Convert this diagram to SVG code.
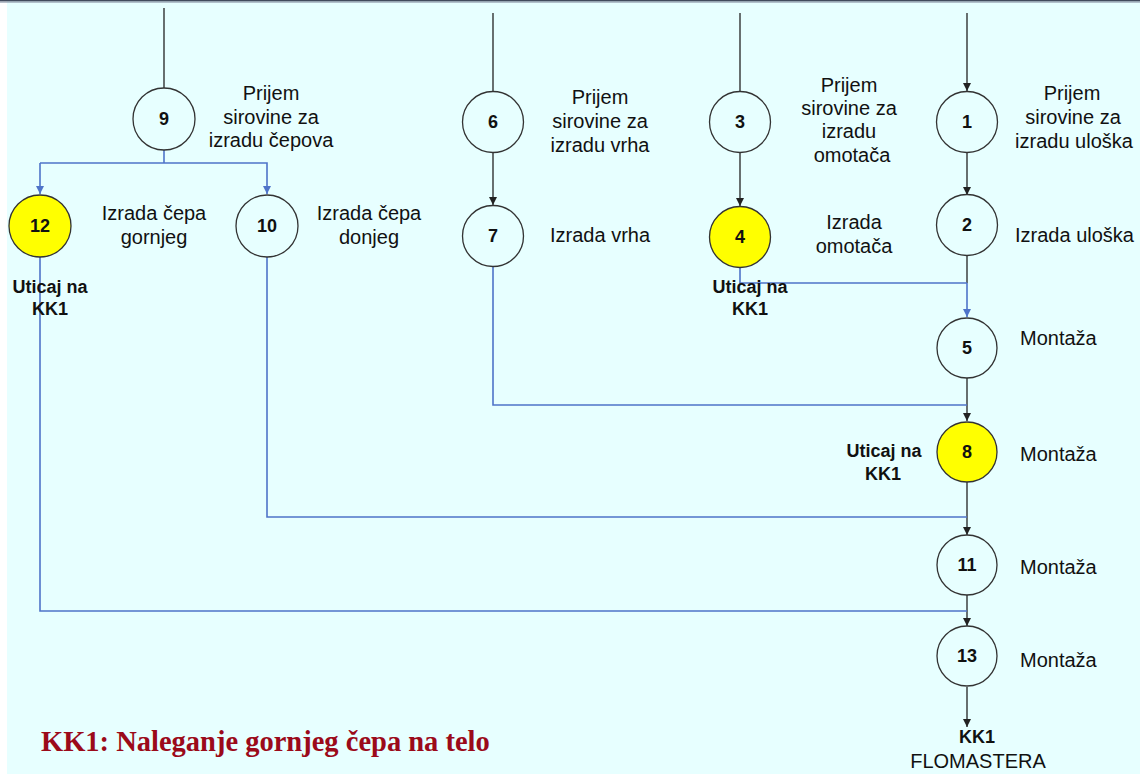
<svg xmlns="http://www.w3.org/2000/svg" width="1140" height="774" viewBox="0 0 1140 774">
<defs>
<style>
.bg{fill:#e7ffff}
.node{stroke:#333;stroke-width:1.3;fill:#e7ffff}
.hl{fill:#ffff00}
.num{font-family:"Liberation Sans",Arial,sans-serif;font-size:18px;font-weight:bold;fill:#111;text-anchor:middle}
.lbl{font-family:"Liberation Sans",Arial,sans-serif;font-size:20px;fill:#111}
.mid{text-anchor:middle}
.bold{font-family:"Liberation Sans",Arial,sans-serif;font-size:18px;font-weight:bold;fill:#111;text-anchor:middle}
.blk{stroke:#222;stroke-width:1.3;fill:none}
.blu{stroke:#4f74c9;stroke-width:1.6;fill:none}
.note{font-family:"Liberation Serif","Times New Roman",serif;font-size:28.5px;font-weight:bold;fill:#9b0a1a}
</style>
<marker id="ab" viewBox="0 0 10 10" refX="10" refY="5" markerWidth="11" markerHeight="8" markerUnits="userSpaceOnUse" orient="auto"><path d="M0,0 L10,5 L0,10 z" fill="#222"/></marker>
<marker id="au" viewBox="0 0 10 10" refX="10" refY="5" markerWidth="11" markerHeight="8" markerUnits="userSpaceOnUse" orient="auto"><path d="M0,0 L10,5 L0,10 z" fill="#4f74c9"/></marker>
</defs>
<rect x="0" y="0" width="1140" height="774" fill="#ffffff"/>
<rect class="bg" x="7" y="0" width="1133" height="774"/>
<rect x="0" y="0" width="1140" height="1.5" fill="#414b5c"/>
<rect x="0" y="1.5" width="1140" height="1.2" fill="#9aa6b6"/>

<g id="connectors">
<line class="blk" x1="164" y1="8" x2="164" y2="88"/>
<line class="blk" x1="493" y1="13" x2="493" y2="92"/>
<line class="blk" x1="740" y1="13" x2="740" y2="92"/>
<line class="blk" x1="967" y1="13" x2="967" y2="91" marker-end="url(#ab)"/>
<polyline class="blu" points="164,150 164,163"/>
<polyline class="blu" points="40,163 267,163 267,194" marker-end="url(#au)"/>
<line class="blu" x1="40" y1="163" x2="40" y2="194" marker-end="url(#au)"/>
<line class="blk" x1="493" y1="153" x2="493" y2="205" marker-end="url(#ab)"/>
<line class="blk" x1="740" y1="152" x2="740" y2="206" marker-end="url(#ab)"/>
<line class="blk" x1="967" y1="152" x2="967" y2="195" marker-end="url(#ab)"/>
<line class="blk" x1="967" y1="256" x2="967" y2="283"/>
<line class="blu" x1="967" y1="283" x2="967" y2="317" marker-end="url(#au)"/>
<polyline class="blu" points="740,267 740,283 967,283"/>
<line class="blk" x1="967" y1="378" x2="967" y2="421" marker-end="url(#ab)"/>
<polyline class="blu" points="493,267 493,405 967,405"/>
<line class="blk" x1="967" y1="482" x2="967" y2="535" marker-end="url(#ab)"/>
<polyline class="blu" points="267,256 267,517 967,517"/>
<line class="blk" x1="967" y1="595" x2="967" y2="626" marker-end="url(#ab)"/>
<polyline class="blu" points="40,257 40,611 967,611"/>
<line class="blk" x1="967" y1="687" x2="967" y2="727" marker-end="url(#ab)"/>
</g>

<g id="n9"><circle class="node" cx="164" cy="119" r="31"/><text class="num" x="164" y="125">9</text>
<text class="lbl mid" x="271" y="100">Prijem</text><text class="lbl mid" x="271" y="123.5">sirovine za</text><text class="lbl mid" x="271" y="147">izradu čepova</text></g>

<g id="n12"><circle class="node hl" cx="40" cy="226" r="31"/><text class="num" x="40" y="232">12</text>
<text class="lbl mid" x="154" y="220">Izrada čepa</text><text class="lbl mid" x="154" y="244">gornjeg</text>
<text class="bold" x="50" y="293">Uticaj na</text><text class="bold" x="50" y="315">KK1</text></g>

<g id="n10"><circle class="node" cx="267" cy="226" r="31"/><text class="num" x="267" y="232">10</text>
<text class="lbl mid" x="369" y="220">Izrada čepa</text><text class="lbl mid" x="369" y="244">donjeg</text></g>

<g id="n6"><circle class="node" cx="493" cy="122" r="30.5"/><text class="num" x="493" y="128">6</text>
<text class="lbl mid" x="600" y="104">Prijem</text><text class="lbl mid" x="600" y="128">sirovine za</text><text class="lbl mid" x="600" y="152">izradu vrha</text></g>

<g id="n7"><circle class="node" cx="493" cy="236" r="30.5"/><text class="num" x="493" y="242">7</text>
<text class="lbl" x="550" y="242">Izrada vrha</text></g>

<g id="n3"><circle class="node" cx="740" cy="122" r="30.5"/><text class="num" x="740" y="128">3</text>
<text class="lbl mid" x="849" y="92">Prijem</text><text class="lbl mid" x="849" y="115">sirovine za</text><text class="lbl mid" x="849" y="138">izradu</text><text class="lbl mid" x="852" y="162">omotača</text></g>

<g id="n4"><circle class="node hl" cx="740" cy="237" r="30.5"/><text class="num" x="740" y="243">4</text>
<text class="lbl mid" x="854" y="229">Izrada</text><text class="lbl mid" x="854" y="253">omotača</text>
<text class="bold" x="750" y="293">Uticaj na</text><text class="bold" x="750" y="315">KK1</text></g>

<g id="n1"><circle class="node" cx="967" cy="122" r="30.5"/><text class="num" x="967" y="128">1</text>
<text class="lbl mid" x="1072" y="100">Prijem</text><text class="lbl mid" x="1073" y="124">sirovine za</text><text class="lbl mid" x="1074" y="148">izradu uloška</text></g>

<g id="n2"><circle class="node" cx="967" cy="225" r="30.5"/><text class="num" x="967" y="231">2</text>
<text class="lbl" x="1015" y="242">Izrada uloška</text></g>

<g id="n5"><circle class="node" cx="967" cy="348" r="30"/><text class="num" x="967" y="354">5</text>
<text class="lbl" x="1020" y="345">Montaža</text></g>

<g id="n8"><circle class="node hl" cx="967" cy="452" r="30"/><text class="num" x="967" y="458">8</text>
<text class="lbl" x="1020" y="461">Montaža</text>
<text class="bold" x="884" y="457">Uticaj na</text><text class="bold" x="883" y="480">KK1</text></g>

<g id="n11"><circle class="node" cx="967" cy="565" r="30"/><text class="num" x="967" y="571">11</text>
<text class="lbl" x="1020" y="574">Montaža</text></g>

<g id="n13"><circle class="node" cx="967" cy="656" r="30"/><text class="num" x="967" y="662">13</text>
<text class="lbl" x="1020" y="667">Montaža</text></g>

<g id="out"><text class="bold" x="977" y="743">KK1</text><text class="lbl mid" x="978" y="768">FLOMASTERA</text></g>

<text class="note" x="41" y="751">KK1: Naleganje gornjeg čepa na telo</text>
</svg>
